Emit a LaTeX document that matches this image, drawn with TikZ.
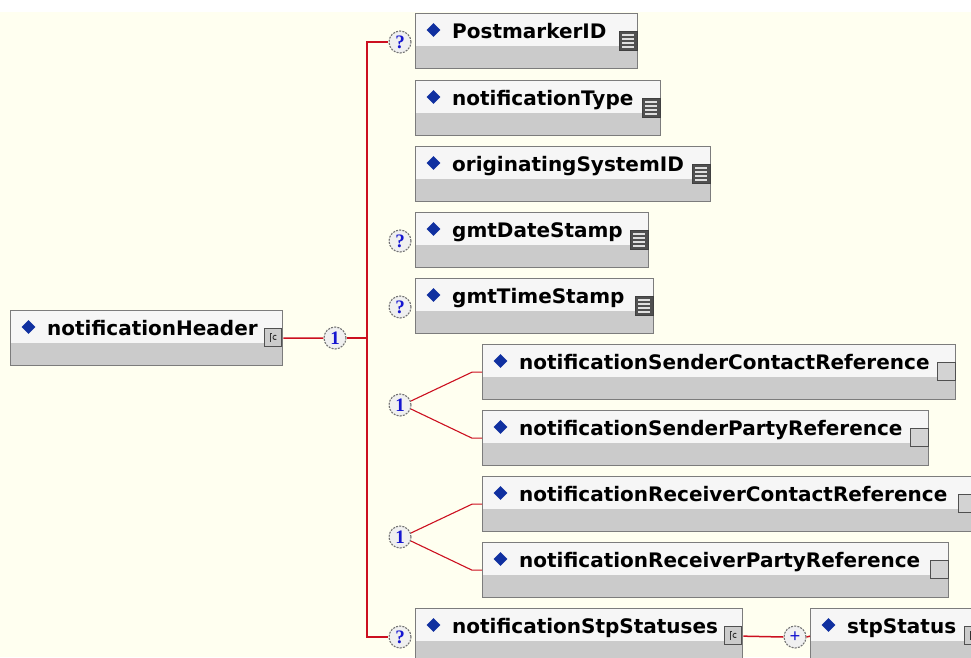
\documentclass[tikz,border=0pt]{standalone}
\usepackage{fontspec}
\setmainfont{DejaVu Sans}
\newfontfamily\cardfont{Liberation Serif}
\usetikzlibrary{shapes.geometric}
\definecolor{bgc}{HTML}{FFFFF0}
\definecolor{boxtop}{HTML}{F6F6F6}
\definecolor{boxgrey}{HTML}{CBCBCB}
\definecolor{boxline}{HTML}{7C7C7C}
\definecolor{redc}{HTML}{CC1020}
\definecolor{diab}{HTML}{1030A0}
\definecolor{cardblue}{HTML}{1515D0}
\definecolor{icondark}{HTML}{505050}
\tikzset{
  elem/.style={rectangle, draw=boxline, line width=1.3pt, minimum height=55pt, inner sep=0pt,
    anchor=north west, fill=boxtop,
    path picture={\fill[boxgrey] ([yshift=-32pt]path picture bounding box.north west) rectangle (path picture bounding box.south east);}},
  dia/.style={diamond, fill=diab, minimum width=14pt, minimum height=14pt, inner sep=0pt},
  lbl/.style={anchor=base west, inner sep=0pt, text=black, font=\fontsize{20}{20}\selectfont\bfseries},
  simp/.style={rectangle, draw=icondark!80!black, line width=0.8pt, fill=icondark, minimum width=18pt, minimum height=19pt, inner sep=0pt,
    path picture={\foreach \k in {1,...,4} \draw[white!75!gray, line width=1.2pt]
      ([xshift=3pt,yshift=-\k*4pt]path picture bounding box.north west) -- ([xshift=-3pt,yshift=-\k*4pt]path picture bounding box.north east);}},
  cref/.style={rectangle, draw=icondark, line width=1.3pt, fill=boxgrey!85!white, minimum width=18pt, minimum height=18pt, inner sep=0pt},
  ctyp/.style={rectangle, draw=icondark, line width=1pt, fill=boxgrey, minimum width=17pt, minimum height=18pt, inner sep=0pt,
    path picture={\draw[black!80, line width=0.9pt]
      ([xshift=-3pt,yshift=-4pt]path picture bounding box.center) -- ([xshift=-3pt,yshift=4pt]path picture bounding box.center) -- ([xshift=-1pt,yshift=4pt]path picture bounding box.center);
      \draw[black!80, line width=0.9pt] ([xshift=3pt,yshift=2pt]path picture bounding box.center) arc[start angle=60, end angle=300, radius=2.2pt];}},
  card/.style={circle, draw=black!55, dash pattern=on 2pt off 1.2pt, line width=1.1pt, fill=white!88!gray,
    minimum size=22pt, inner sep=0pt, text=cardblue, font=\cardfont\bfseries\fontsize{19}{19}\selectfont},
  conn/.style={draw=redc, line width=1.5pt},
  chl/.style={draw=redc, line width=1.1pt}
}
\newcommand\mkelem[6]{%
  \node[elem, minimum width=#4pt] (#1) at (#2,#3) {};
  \node[dia] (#1d) at ([xshift=18.5pt,yshift=-17pt]#1.north west) {};
  \node[lbl] (#1t) at ([xshift=37pt,yshift=-25pt]#1.north west) {#5};
  \node[#6] (#1i) at ([xshift=-10pt,yshift=-27.5pt]#1.north east) {};
}
\begin{document}
\begin{tikzpicture}[x=1pt,y=-1pt]
\useasboundingbox (0,0) rectangle (971,657);
\clip (0,0) rectangle (971,657);
\fill[bgc] (0,0) rectangle (971,657);
\fill[white] (0,0) rectangle (971,12);

\coordinate (vt) at (367,42);
\coordinate (vm) at (367,338);
\coordinate (vb) at (367,637);

\mkelem{hdr}{10}{310}{272}{notificationHeader}{ctyp}
\mkelem{pm}{415}{13}{222}{PostmarkerID}{simp}
\mkelem{nt}{415}{80}{245}{notificationType}{simp}
\mkelem{os}{415}{146}{295}{originatingSystemID}{simp}
\mkelem{gd}{415}{212}{233}{gmtDateStamp}{simp}
\mkelem{gt}{415}{278}{238}{gmtTimeStamp}{simp}
\mkelem{sc}{482}{344}{473}{notificationSenderContactReference}{cref}
\mkelem{sp}{482}{410}{446}{notificationSenderPartyReference}{cref}
\mkelem{rc}{482}{476}{494}{notificationReceiverContactReference}{cref}
\mkelem{rp}{482}{542}{466}{notificationReceiverPartyReference}{cref}
\mkelem{stps}{415}{608}{327}{notificationStpStatuses}{ctyp}
\mkelem{stp}{810}{608}{172}{stpStatus}{ctyp}

\node[card] (c1) at (335,338) {1};
\node[card] (q1) at (400,42) {?};
\node[card] (q2) at (400,241) {?};
\node[card] (q3) at (400,307) {?};
\node[card] (ch1) at (400,405) {1};
\node[card] (ch2) at (400,537) {1};
\node[card] (q4) at (400,637) {?};
\node[card] (pl) at (795,637) {+};

\draw[conn] (hdr.east) -- (c1.west);
\draw[conn] (c1.east) -- (vm);
\draw[conn] (q1.west) -- (vt) -- (vb) -- (q4.west);
\draw[chl] (ch1.20) -- ([xshift=-10pt]sc.west) -- (sc.west);
\draw[chl] (ch1.-20) -- ([xshift=-10pt]sp.west) -- (sp.west);
\draw[chl] (ch2.20) -- ([xshift=-10pt]rc.west) -- (rc.west);
\draw[chl] (ch2.-20) -- ([xshift=-10pt]rp.west) -- (rp.west);
\draw[conn] (stps.east) -- (pl.west);
\draw[conn] (pl.east) -- (stp.west);
\end{tikzpicture}
\end{document}
